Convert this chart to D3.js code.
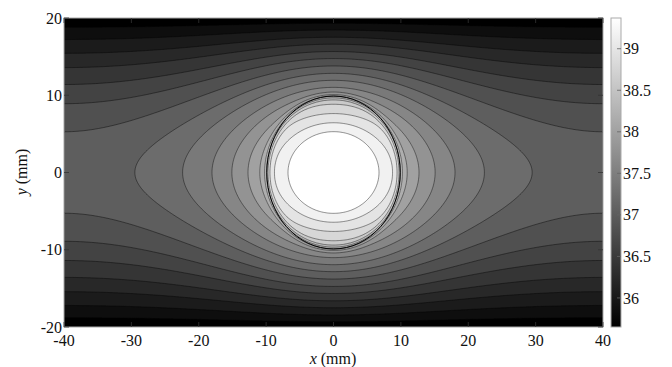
<!DOCTYPE html>
<html>
<head>
<meta charset="utf-8">
<script src="https://cdn.jsdelivr.net/npm/d3@7"></script>
<style>
  body { margin: 0; background: #fff; }
  svg { display: block; }
  text { font-family: "Liberation Serif", "DejaVu Serif", "Times New Roman", Times, serif; fill: #111; }
</style>
</head>
<body>
<svg id="chart" width="672" height="367"></svg>
<script>
// contour levels (deg C), lowest = colour-axis min, highest = colour-axis max
const levels = [35.65, 35.85, 36.04, 36.24, 36.43, 36.63, 36.82, 37.02, 37.22, 37.41,
                37.61, 37.80, 38.00, 38.19, 38.39, 38.58, 38.78, 38.98, 39.17, 39.37];
const xTicks = [-40, -30, -20, -10, 0, 10, 20, 30, 40];
const yTicks = [-20, -10, 0, 10, 20];
const cbTicks = [36, 36.5, 37, 37.5, 38, 38.5, 39];

// temperature field model, parameters
const wallTemp = 35.70;     // temperature at y = +-20 mm
const bulkParab = 0.70;     // parabolic part of the rise to mid-plane
const bulkCos = 0.485;      // cosine part of the rise to mid-plane
const sourceGain = 1.418;   // strength of the central heat source
const coreRadius = 9.8;     // mm, inclusion boundary
const coreSlope = 0.54;     // reduced gradient inside the inclusion
const coreStep = 0.784;     // jump across the inclusion boundary
const coreEdge = 0.25;      // mm
const inclusion = { cx: 0, cy: 0, r: 9.9 };

const svg = d3.select("#chart");
const x = d3.scaleLinear().domain([-40, 40]).range([64, 603]);
const y = d3.scaleLinear().domain([-20, 20]).range([327, 18]);
const gray = d3.scaleLinear().domain([levels[0], levels[levels.length - 1]]).range(["#000", "#fff"]).clamp(true);

function green(px, py) {
  const a = Math.cosh(Math.PI * px / 40), c = Math.cos(Math.PI * py / 40);
  return 0.5 * Math.log((a + c) / Math.max(a - c, 1e-9));
}
// source with mirror images so the side edges are insulated
function source(px, py) {
  return green(px, py) + green(px - 80, py) + green(px + 80, py);
}

function temp(px, py) {
  const r = Math.hypot(px, py);
  let g = source(px, py);
  if (r < coreRadius) {
    const s = r > 1e-6 ? coreRadius / r : 0;
    const gb = r > 1e-6 ? source(px * s, py * s) : 1;
    g = gb + coreSlope * (g - gb);
  }
  return wallTemp + bulkParab * (1 - (py / 20) ** 2) + bulkCos * Math.cos(Math.PI * py / 40) +
    sourceGain * g + coreStep / (1 + Math.exp((r - coreRadius) / coreEdge));
}

// sample grid
const nx = 400, ny = 200, dx = 80 / nx, dy = 40 / ny;
const values = new Float64Array(nx * ny);
for (let j = 0; j < ny; j++) {
  const yy = 20 - (j + 0.5) * dy;
  for (let i = 0; i < nx; i++) {
    values[j * nx + i] = temp(-40 + (i + 0.5) * dx, yy);
  }
}

const contours = d3.contours().size([nx, ny]).thresholds(levels.slice(1))(values);
const proj = d3.geoTransform({
  point(gx, gy) { this.stream.point(x(-40 + gx * dx), y(20 - gy * dy)); }
});
const path = d3.geoPath(proj);

svg.append("clipPath").attr("id", "plotClip")
  .append("rect").attr("x", 64).attr("y", 18).attr("width", 539).attr("height", 309);

const plot = svg.append("g").attr("clip-path", "url(#plotClip)");
plot.append("rect").attr("x", 64).attr("y", 18).attr("width", 539).attr("height", 309)
  .attr("fill", gray(levels[0]));

plot.selectAll("path.band")
  .data(contours)
  .join("path")
  .attr("class", "band")
  .attr("d", path)
  .attr("fill", d => gray(d.value))
  .attr("stroke", "#000")
  .attr("stroke-opacity", 0.7)
  .attr("stroke-width", 0.6);

// inclusion outline
plot.append("ellipse")
  .attr("cx", x(inclusion.cx)).attr("cy", y(inclusion.cy))
  .attr("rx", x(inclusion.r) - x(0)).attr("ry", y(0) - y(inclusion.r))
  .attr("fill", "none").attr("stroke", "#000").attr("stroke-width", 1);

// frame
svg.append("rect").attr("x", 64).attr("y", 18).attr("width", 539).attr("height", 309)
  .attr("fill", "none").attr("stroke", "#aaa").attr("stroke-width", 1);

// inward ticks
const tk = svg.append("g").attr("stroke", "#333").attr("stroke-width", 0.8);
xTicks.forEach(t => {
  tk.append("line").attr("x1", x(t)).attr("x2", x(t)).attr("y1", 327).attr("y2", 322);
  tk.append("line").attr("x1", x(t)).attr("x2", x(t)).attr("y1", 18).attr("y2", 23);
});
yTicks.forEach(t => {
  tk.append("line").attr("x1", 64).attr("x2", 69).attr("y1", y(t)).attr("y2", y(t));
  tk.append("line").attr("x1", 603).attr("x2", 598).attr("y1", y(t)).attr("y2", y(t));
});

// tick labels
svg.append("g").selectAll("text").data(xTicks).join("text")
  .attr("x", d => x(d)).attr("y", 346)
  .attr("text-anchor", "middle").attr("font-size", 16)
  .text(d => d);
svg.append("g").selectAll("text").data(yTicks).join("text")
  .attr("x", 62).attr("y", d => y(d)).attr("dy", "0.35em")
  .attr("text-anchor", "end").attr("font-size", 16)
  .text(d => d);

// axis titles
const xt = svg.append("text").attr("x", 333).attr("y", 364)
  .attr("text-anchor", "middle").attr("font-size", 16);
xt.append("tspan").attr("font-style", "italic").text("x");
xt.append("tspan").text(" (mm)");
const yt = svg.append("text").attr("transform", "translate(27,172) rotate(-90)")
  .attr("text-anchor", "middle").attr("font-size", 16);
yt.append("tspan").attr("font-style", "italic").text("y");
yt.append("tspan").text(" (mm)");

// colour bar
const cb = d3.scaleLinear().domain([levels[0], levels[levels.length - 1]]).range([327, 18]);
const grad = svg.append("defs").append("linearGradient").attr("id", "cbGrad")
  .attr("x1", 0).attr("y1", 1).attr("x2", 0).attr("y2", 0);
grad.append("stop").attr("offset", 0).attr("stop-color", "#000");
grad.append("stop").attr("offset", 1).attr("stop-color", "#fff");
svg.append("rect").attr("x", 611).attr("y", 18).attr("width", 10).attr("height", 309)
  .attr("fill", "url(#cbGrad)").attr("stroke", "#aaa").attr("stroke-width", 1);
const cbg = svg.append("g");
cbTicks.forEach(t => {
  cbg.append("line").attr("x1", 617).attr("x2", 621).attr("y1", cb(t)).attr("y2", cb(t))
    .attr("stroke", "#666").attr("stroke-width", 0.8);
  cbg.append("text").attr("x", 623).attr("y", cb(t)).attr("dy", "0.35em")
    .attr("font-size", 16).text(t);
});
</script>
</body>
</html>
